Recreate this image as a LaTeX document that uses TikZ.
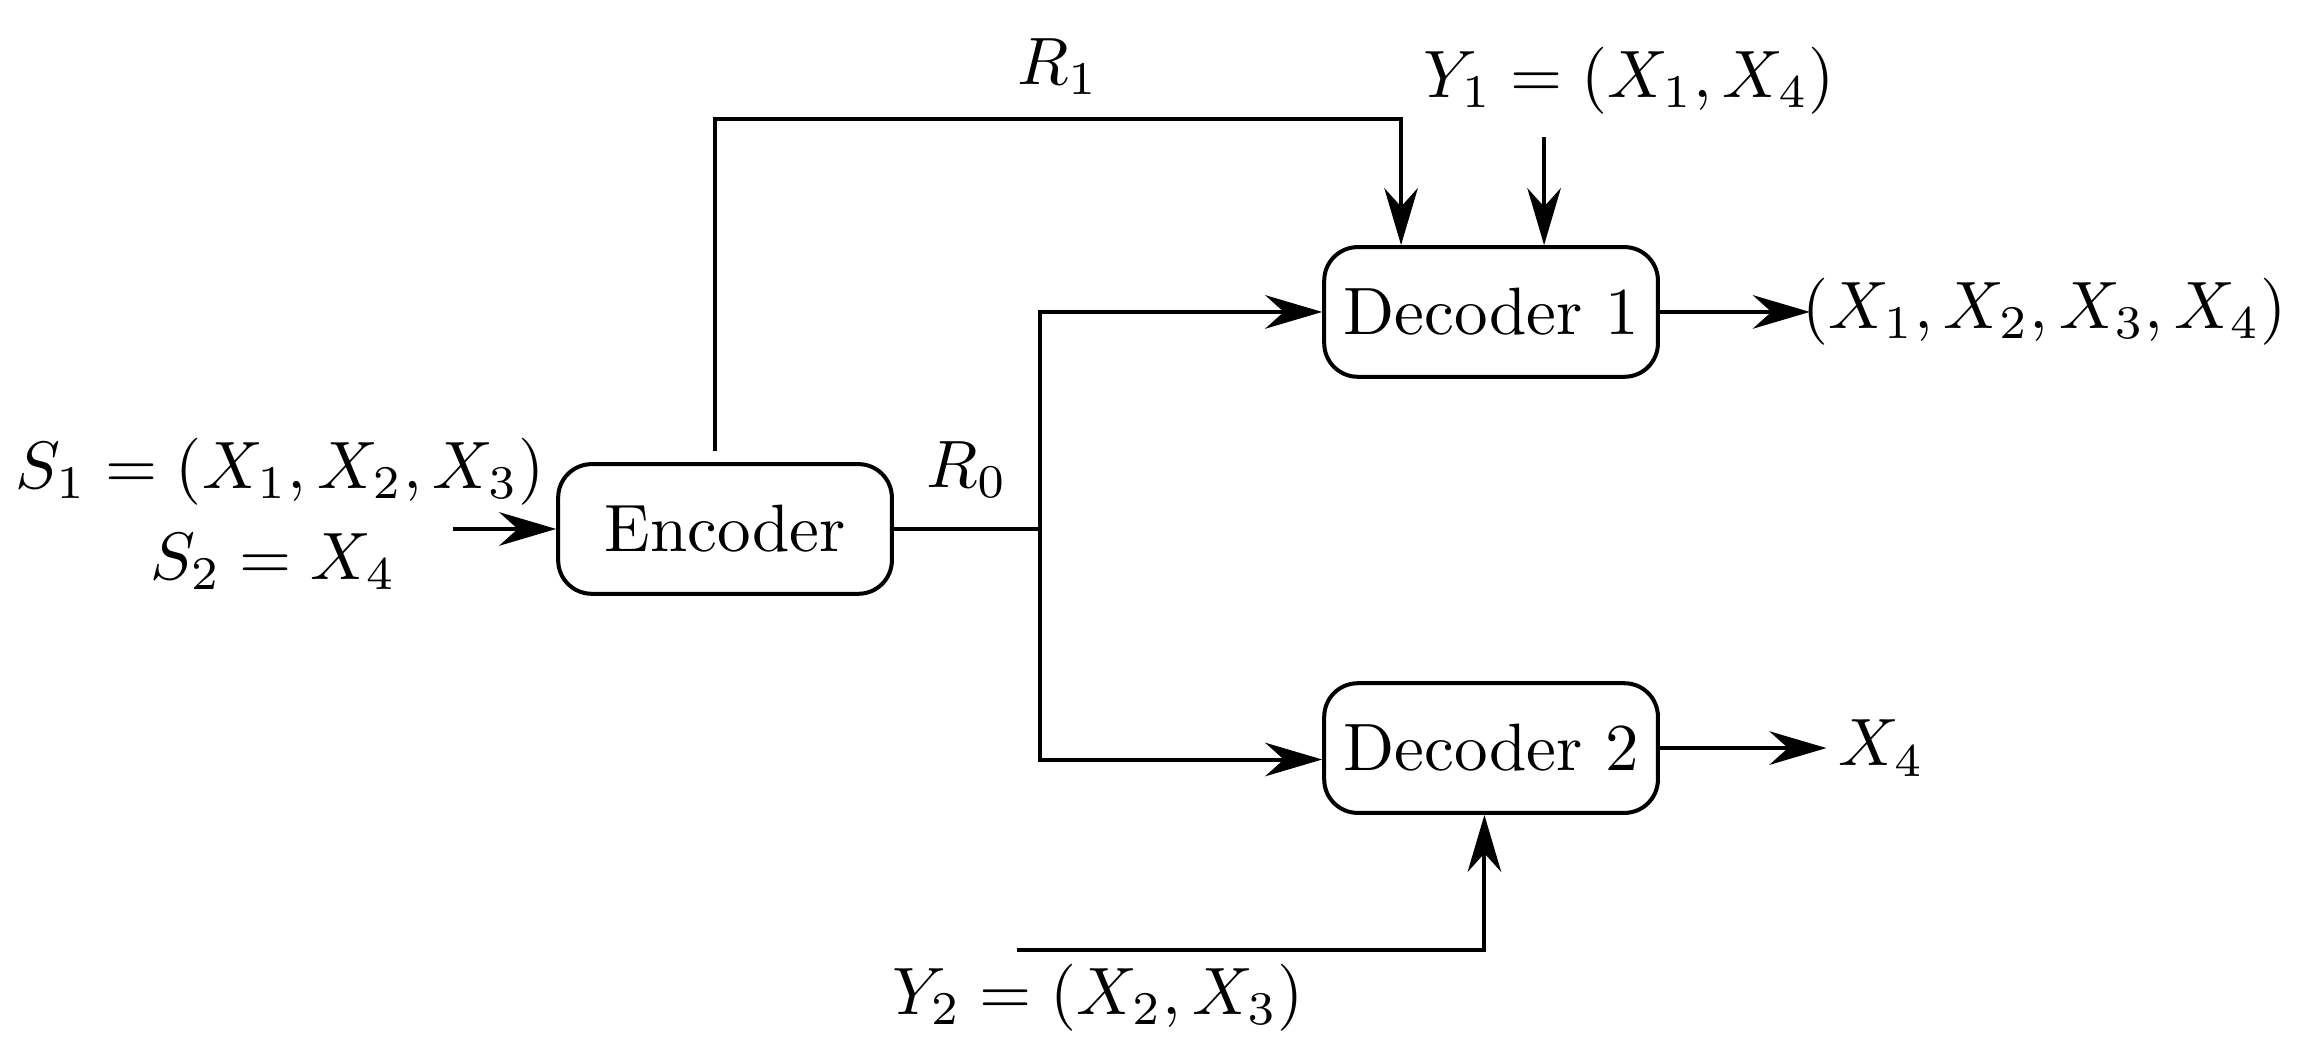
\documentclass[tikz,border=0pt]{standalone}
\usepackage{amsmath,amssymb}
\usetikzlibrary{arrows.meta, positioning, calc}

\begin{document}
\begin{tikzpicture}[
    block/.style={draw, line width=0.6pt, rounded corners=5pt, minimum width=1.75cm, minimum height=0.68cm, inner sep=0pt},
    arr/.style={-{Stealth[length=8.5pt, width=5pt]}, line width=0.6pt},
    link/.style={line width=0.6pt}
  ]
    \useasboundingbox (0,0) rectangle (12.124,5.543);
    % Encoder and decoders
    \node[block] (enc) at (3.802,2.769) {Encoder};
    \node[block] (dec1) at (7.819,3.907) {Decoder 1};
    \node[block] (dec2) at (7.819,1.620) {Decoder 2};

    % Sources
    \node (s1) at (1.468,3.068) {$S_1=(X_1,X_2,X_3)$};
    \node (s2) at (1.432,2.596) {$S_2=X_4$};
    \coordinate (in) at (2.375,2.769);
    \draw[arr] (in) -- (enc.west);

    % Private link R1
    \coordinate (r1start) at ($(enc.north)+(-0.053,0.057)$);
    \coordinate (r1top) at (7.347,4.919);
    \draw[arr] (r1start) |- node[pos=0.75, above] {$R_1$} (r1top) -- (r1top |- dec1.north);

    % Side information Y1
    \node (y1) at (8.542,5.118) {$Y_1=(X_1,X_4)$};
    \coordinate (y1start) at (8.097,4.824);
    \draw[arr] (y1start) -- (y1start |- dec1.north);

    % Common link R0
    \coordinate (split) at (5.454,2.769);
    \draw[link] (enc.east) -- node[above, yshift=1pt] {$R_0$} (split);
    \draw[arr] (split) |- (dec1.west);
    \draw[arr] (split) |- ($(dec2.west)+(0,-0.06)$);

    % Outputs
    \node[anchor=west, inner sep=0pt] (out1) at ($(dec1.east)+(0.74,0)$) {$(X_1,X_2,X_3,X_4)$};
    \draw[arr, shorten >=-0.046cm] (dec1.east) -- (out1.west);
    \node[anchor=west, inner sep=0.058cm] (out2) at ($(dec2.east)+(0.873,0)$) {$X_4$};
    \draw[arr] (dec2.east) -- (out2.west);

    % Side information Y2
    \coordinate (y2start) at (5.333,0.561);
    \draw[arr] (y2start) -| ($(dec2.south)+(-0.035,0)$);
    \node (y2) at (5.758,0.309) {$Y_2=(X_2,X_3)$};
  \end{tikzpicture}
\end{document}
